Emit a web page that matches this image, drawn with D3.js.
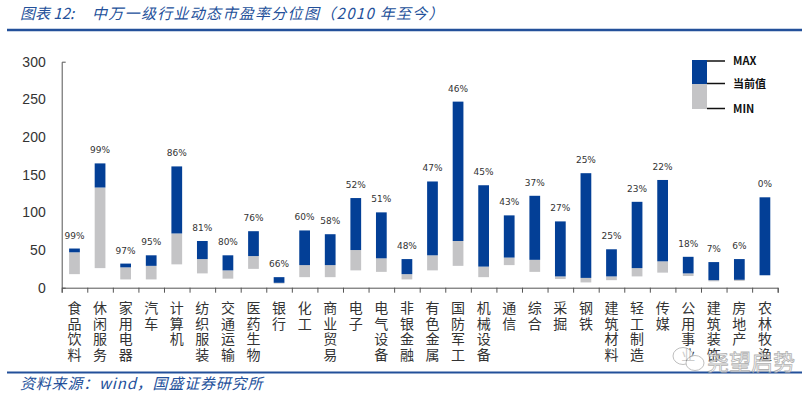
<!DOCTYPE html>
<html>
<head>
<meta charset="utf-8">
<script src="https://cdn.jsdelivr.net/npm/d3@7"></script>
<style>
  body { margin: 0; background: #fff; }
  svg { display: block; }
</style>
</head>
<body>
<svg width="807" height="397"></svg>
<script>
let categories = ["食品饮料", "休闲服务", "家用电器", "汽车", "计算机", "纺织服装", "交通运输", "医药生物",
    "银行", "化工", "商业贸易", "电子", "电气设备", "非银金融", "有色金属", "国防军工", "机械设备",
    "通信", "综合", "采掘", "钢铁", "建筑材料", "轻工制造", "传媒", "公用事业", "建筑装饰", "房地产", "农林牧渔"];
let maxVals = [52, 165, 32, 43, 161, 62, 43, 75, 14, 76, 71, 119, 100, 38, 141, 247, 136,
    96, 122, 88, 152, 51, 114, 143, 41, 34, 38, 120];
let curVals = [47, 133, 27, 29, 72, 38, 23, 42, 6.5, 30, 30, 50, 39, 18, 43, 62, 28,
    40, 37, 15, 13, 15, 26, 35, 19, 10, 10.5, 16.5];
let minVals = [18, 26, 11, 11, 31, 19, 12, 25, 5.5, 14, 14, 23, 21, 11, 23, 29, 14,
    30, 21, 11.5, 7, 10, 15, 20, 15.5, 8.5, 9, 16.5];
let pctLabels = ["99%", "99%", "97%", "95%", "86%", "81%", "80%", "76%", "66%", "60%", "58%", "52%",
    "51%", "48%", "47%", "46%", "45%", "43%", "37%", "27%", "25%", "25%", "23%", "22%", "18%", "7%", "6%", "0%"];
let yTicks = [0, 50, 100, 150, 200, 250, 300];

let blue = "#033f96", grey = "#c4c4c6", navy = "#23509a";

let svg = d3.select("svg"),
    plotLeft = 61.7, plotRight = 777.7, plotTop = 61.7, plotBottom = 287.7;

let x = d3.scaleBand().domain(categories).range([plotLeft, plotRight]).padding(0),
    xi = d3.scaleLinear().domain([0, categories.length]).range([plotLeft, plotRight]),
    y = d3.scaleLinear().domain([0, 300]).range([plotBottom, plotTop]);

let barW = x.bandwidth() * 0.42;

let rows = categories.map(function(c, i) {
    return {name: c, max: maxVals[i], cur: curVals[i], min: minVals[i], pct: pctLabels[i]};
});

// title + rules
let title = svg.append("text")
    .attr("y", 19)
    .style("font", "italic 15px 'Noto Sans CJK SC', sans-serif")
    .attr("fill", navy);
title.append("tspan").attr("x", 20).text("图表 12:");
title.append("tspan").attr("x", 92).style("letter-spacing", "1.3px")
    .text("中万一级行业动态市盈率分位图（2010 年至今）");
svg.append("line").attr("x1", 7).attr("x2", 802).attr("y1", 30).attr("y2", 30)
    .attr("stroke", navy).attr("stroke-width", 2.5);
svg.append("line").attr("x1", 7).attr("x2", 802).attr("y1", 372.5).attr("y2", 372.5)
    .attr("stroke", navy).attr("stroke-width", 2);
svg.append("text")
    .attr("x", 20).attr("y", 389)
    .style("font", "italic 15px 'Noto Sans CJK SC', sans-serif")
    .style("letter-spacing", "0.8px")
    .attr("fill", navy)
    .text("资料来源：wind，国盛证券研究所");

// axes
let yAxis = svg.append("g")
    .attr("transform", "translate(" + plotLeft + ",0)")
    .call(d3.axisLeft(y).tickValues(yTicks).tickSizeInner(0).tickSizeOuter(-4).tickPadding(16));
yAxis.selectAll("text").style("font", "14px 'Liberation Sans', Arial, sans-serif").attr("fill", "#333");
yAxis.select(".domain").attr("stroke", "#555");

let xAxis = svg.append("g")
    .attr("transform", "translate(0," + plotBottom + ")")
    .call(d3.axisBottom(xi).tickValues(d3.range(categories.length + 1)).tickSize(5).tickFormat(""));
xAxis.selectAll("line, path").attr("stroke", "#555");

// bars
let bar = svg.selectAll(".bar")
    .data(rows)
    .enter().append("g")
    .attr("class", "bar");

bar.append("rect")
    .attr("x", function(d) { return x(d.name) + (x.bandwidth() - barW) / 2; })
    .attr("width", barW)
    .attr("y", function(d) { return y(d.cur); })
    .attr("height", function(d) { return y(d.min) - y(d.cur); })
    .attr("fill", grey);

bar.append("rect")
    .attr("x", function(d) { return x(d.name) + (x.bandwidth() - barW) / 2; })
    .attr("width", barW)
    .attr("y", function(d) { return y(d.max); })
    .attr("height", function(d) { return y(d.cur) - y(d.max); })
    .attr("fill", blue);

bar.append("text")
    .attr("x", function(d) { return x(d.name) + x.bandwidth() / 2; })
    .attr("y", function(d) { return y(d.max) - 10; })
    .attr("text-anchor", "middle")
    .style("font", "9px 'DejaVu Sans', sans-serif")
    .attr("fill", "#333")
    .text(function(d) { return d.pct; });

// vertical category labels
let lab = svg.selectAll(".cat")
    .data(categories)
    .enter().append("text")
    .attr("class", "cat")
    .attr("text-anchor", "middle")
    .style("font", "14px 'Noto Sans CJK SC', sans-serif")
    .attr("fill", "#333");
lab.selectAll("tspan")
    .data(function(d) { return d.split(""); })
    .enter().append("tspan")
    .attr("x", function() { let c = this.parentNode.__data__; return x(c) + x.bandwidth() / 2; })
    .attr("y", function(d, i) { return 313 + i * 15.7; })
    .text(function(d) { return d; });

// legend
let lg = svg.append("g");
lg.append("rect").attr("x", 692).attr("y", 60).attr("width", 15).attr("height", 24).attr("fill", blue);
lg.append("rect").attr("x", 692).attr("y", 84).attr("width", 15).attr("height", 25).attr("fill", grey);
[[61, "MAX"], [83.5, "当前值"], [108.5, "MIN"]].forEach(function(l) {
    lg.append("line").attr("x1", 707).attr("x2", 725).attr("y1", l[0]).attr("y2", l[0])
        .attr("stroke", "#111").attr("stroke-width", 1.5);
    lg.append("text").attr("x", 733).attr("y", l[0] + 4)
        .style("font", "bold 11px 'Noto Sans CJK SC', sans-serif")
        .attr("fill", "#111")
        .text(l[1]);
});

// watermark (sits over the last labels, as in the source image)
let wm = svg.append("g").attr("opacity", 0.75);
wm.append("ellipse").attr("cx", 683).attr("cy", 356).attr("rx", 10).attr("ry", 8.5)
    .attr("fill", "#fff").attr("stroke", "#aaa");
wm.append("ellipse").attr("cx", 695).attr("cy", 363).attr("rx", 9).attr("ry", 7.5)
    .attr("fill", "#fff").attr("stroke", "#aaa");
wm.append("text").attr("x", 707).attr("y", 370)
    .style("font", "22px 'Noto Sans CJK SC', sans-serif")
    .attr("fill", "#fff").attr("stroke", "#999").attr("stroke-width", 0.8)
    .text("尧望启势");
</script>
</body>
</html>
